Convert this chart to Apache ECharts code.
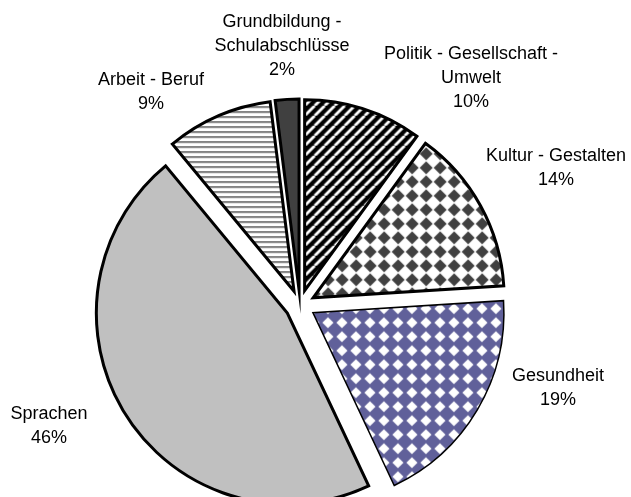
<!DOCTYPE html>
<html>
<head>
<meta charset="utf-8">
<script src="https://cdn.jsdelivr.net/npm/echarts@6/dist/echarts.min.js"></script>
<style>
  html, body { margin: 0; padding: 0; background: #fff; }
  #chart { width: 631px; height: 497px; }
</style>
</head>
<body>
<div id="chart"></div>
<script>
// ---- data ----
const categories = [
  'Politik - Gesellschaft -\nUmwelt',
  'Kultur - Gestalten',
  'Gesundheit',
  'Sprachen',
  'Arbeit - Beruf',
  'Grundbildung -\nSchulabschlüsse'
];
const shares = [10, 14, 19, 46, 9, 2];

// ---- label placement (label centres, px) ----
const labelCentres = [
  [471, 78],
  [556, 168],
  [558, 388],
  [49, 426],
  [151, 92],
  [282, 46]
];

// ---- patterns ----
function makeCanvas(w, h) {
  const c = document.createElement('canvas');
  c.width = w; c.height = h;
  return c;
}
function diagonalStripes() {
  const s = 10;
  const c = makeCanvas(s, s), g = c.getContext('2d');
  g.fillStyle = '#000'; g.fillRect(0, 0, s, s);
  g.strokeStyle = '#fff'; g.lineWidth = 2.8;
  for (let k = -1; k <= 1; k++) {
    g.beginPath(); g.moveTo(k * s, s); g.lineTo(k * s + s, 0); g.stroke();
  }
  return c;
}
function diamonds(bg, fg, s, h) {
  const c = makeCanvas(s, s), g = c.getContext('2d');
  g.fillStyle = bg; g.fillRect(0, 0, s, s);
  g.fillStyle = fg;
  const m = s / 2;
  g.beginPath();
  g.moveTo(m, m - h); g.lineTo(m + h, m); g.lineTo(m, m + h); g.lineTo(m - h, m);
  g.closePath(); g.fill();
  return c;
}
function horizontalLines() {
  const c = makeCanvas(4, 5), g = c.getContext('2d');
  g.fillStyle = '#fff'; g.fillRect(0, 0, 4, 5);
  g.fillStyle = '#5a5a5a'; g.fillRect(0, 0, 4, 1);
  g.fillStyle = '#a0a0a0'; g.fillRect(0, 1, 4, 1);
  return c;
}

const fills = [
  { image: diagonalStripes(), repeat: 'repeat' },
  { image: diamonds('#ffffff', '#404040', 14, 6.5), repeat: 'repeat' },
  { image: diamonds('#60609a', '#ffffff', 14, 5.6), repeat: 'repeat' },
  '#c0c0c0',
  { image: horizontalLines(), repeat: 'repeat' },
  '#404040'
];
const borderWidths = [3, 3, 1.5, 3, 3, 3];

const chart = echarts.init(document.getElementById('chart'), null, { renderer: 'canvas' });

const data = categories.map((name, i) => ({
  name: name,
  value: shares[i],
  selected: true,
  itemStyle: { color: fills[i], borderWidth: borderWidths[i] }
}));

const labelFont = '"Liberation Sans", Arial, sans-serif';
const labels = categories.map((name, i) => ({
  type: 'text',
  x: labelCentres[i][0],
  y: labelCentres[i][1],
  silent: true,
  style: {
    text: name + '\n' + shares[i] + '%',
    fontFamily: labelFont,
    fontSize: 18,
    lineHeight: 24,
    fill: '#000',
    align: 'center',
    verticalAlign: 'middle'
  }
}));

chart.setOption({
  animation: false,
  backgroundColor: '#ffffff',
  graphic: labels,
  series: [{
    type: 'pie',
    center: [300, 305],
    radius: [0, 191],
    startAngle: 90,
    clockwise: true,
    selectedMode: 'multiple',
    selectedOffset: 15,
    avoidLabelOverlap: false,
    emphasis: { disabled: true },
    select: { itemStyle: { borderColor: '#000' } },
    itemStyle: {
      borderColor: '#000',
      borderJoin: 'miter',
      borderMiterLimit: 20
    },
    label: { show: false },
    labelLine: { show: false },
    data: data
  }]
});
</script>
</body>
</html>
